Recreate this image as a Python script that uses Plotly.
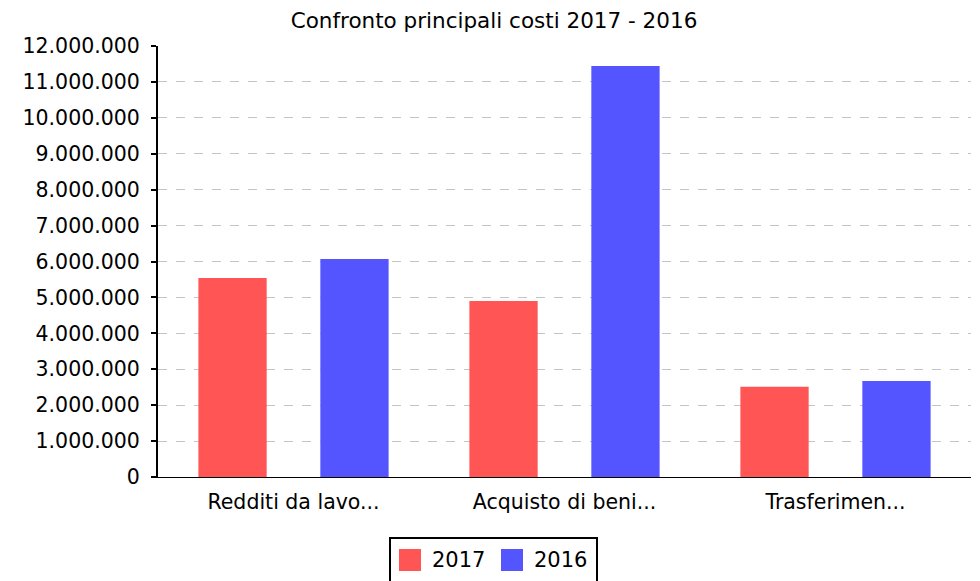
import plotly.graph_objects as go

categories = ["Redditi da lavo...", "Acquisto di beni...", "Trasferimen..."]
series_names = ["2017", "2016"]
values_2017 = [5540000, 4900000, 2510000]
values_2016 = [6070000, 11440000, 2670000]
colors = ["#FF5555", "#5555FF"]
y_ticks = list(range(0, 12000001, 1000000))

FONT = "DejaVu Sans"
OFF = 8  # page body margin
W, H = 980 - OFF, 581 - OFF
L, T = 158 - OFF, 46 - OFF
R = W - (971 - OFF)
B = H - (477 - OFF)
PW, PH = W - L - R, H - T - B


def px_x(x):
    return (x - OFF - L) / PW


def px_y(y):
    return (H - B - (y - OFF)) / PH


fig = go.Figure()
for name, vals, col in zip(series_names, [values_2017, values_2016], colors):
    fig.add_trace(go.Bar(x=categories, y=vals, name=name,
                         marker=dict(color=col, line=dict(width=0))))

# custom legend (box, swatches, labels)
shapes = [dict(type="rect", xref="paper", yref="paper",
               x0=px_x(390), x1=px_x(597), y0=px_y(538), y1=px_y(595),
               line=dict(color="black", width=2), fillcolor="white", layer="above")]
annotations = []
sw_x = [399, 501]
tx_x = [430, 532]
for name, col, sx, tx in zip(series_names, colors, sw_x, tx_x):
    shapes.append(dict(type="rect", xref="paper", yref="paper",
                       x0=px_x(sx), x1=px_x(sx + 22), y0=px_y(549), y1=px_y(571),
                       line=dict(width=0), fillcolor=col, layer="above"))
    annotations.append(dict(text=name, xref="paper", yref="paper", x=px_x(tx), y=px_y(560),
                            xanchor="left", yanchor="middle", showarrow=False,
                            font=dict(family=FONT, size=21, color="black")))

fig.update_layout(
    width=W, height=H,
    margin=dict(l=L, r=R, t=T, b=B, autoexpand=False),
    paper_bgcolor="white", plot_bgcolor="white",
    separators=",.",
    bargap=0.1, bargroupgap=0.44,
    font=dict(family=FONT, size=20, color="black"),
    title=dict(text="Confronto principali costi 2017 - 2016", x=0.5, xanchor="center",
               y=1 - (20 - OFF) / H, yanchor="middle",
               font=dict(family=FONT, size=21.5, color="black")),
    showlegend=False,
    shapes=shapes,
    annotations=annotations,
)
fig.update_yaxes(range=[0, 12000000], tickvals=y_ticks, tickformat=",d",
                 showgrid=True, gridcolor="#C4C4C4", griddash="dash", gridwidth=1,
                 showline=True, linecolor="black", linewidth=2,
                 ticks="outside", ticklen=5, tickcolor="black", tickwidth=2,
                 ticklabelstandoff=7, automargin=False,
                 zeroline=False, tickfont=dict(size=20.5))
fig.update_xaxes(showline=True, linecolor="black", linewidth=1, ticks="",
                 showgrid=False, zeroline=False, tickfont=dict(size=20.5),
                 ticklabelstandoff=6, automargin=False,
                 range=[-0.5, 2.5])

fig.write_html("out.html")
